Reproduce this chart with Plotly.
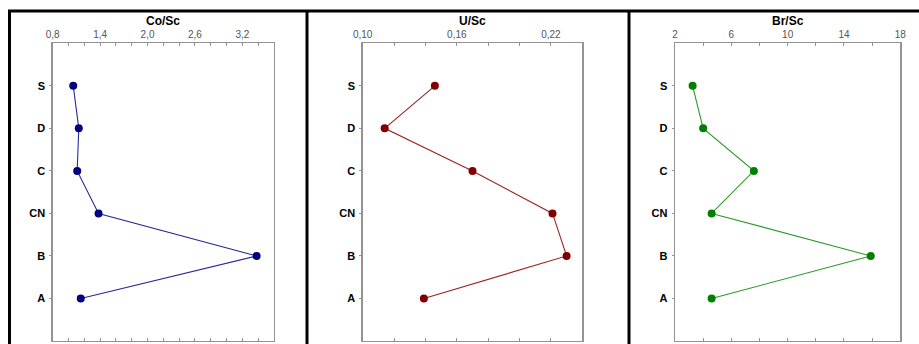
import plotly.graph_objects as go

# ---- data ----
categories = ["S", "D", "C", "CN", "B", "A"]
category_order = ["A", "B", "CN", "C", "D", "S"]  # bottom to top

co_sc = [1.06, 1.13, 1.11, 1.38, 3.38, 1.155]
u_sc = [0.146, 0.114, 0.170, 0.221, 0.230, 0.139]
br_sc = [3.25, 4.0, 7.6, 4.6, 15.9, 4.6]

titles = ["Co/Sc", "U/Sc", "Br/Sc"]

co_tickvals = [0.8, 1.4, 2.0, 2.6, 3.2]
co_ticktext = ["0,8", "1,4", "2,0", "2,6", "3,2"]
u_tickvals = [0.10, 0.16, 0.22]
u_ticktext = ["0,10", "0,16", "0,22"]
br_tickvals = [2, 6, 10, 14, 18]
br_ticktext = ["2", "6", "10", "14", "18"]

W, H = 919, 344

panels = [
    dict(x=co_sc, tv=co_tickvals, tt=co_ticktext, rng=[0.8, 3.6], minor=0.2, tick0=0.8,
         px=(52.7, 274.0), mcol="#000080", lcol="#2a2a98"),
    dict(x=u_sc, tv=u_tickvals, tt=u_ticktext, rng=[0.10, 0.24], minor=0.02, tick0=0.10,
         px=(362.7, 582.3), mcol="#800000", lcol="#9c2424"),
    dict(x=br_sc, tv=br_tickvals, tt=br_ticktext, rng=[2, 18], minor=2, tick0=2,
         px=(675.0, 900.3), mcol="#008000", lcol="#2a9a2a"),
]

ydom = [1 - 341 / H, 1 - 43.3 / H]

fig = go.Figure()
axis_gray = "#939393"
layout = dict(
    width=W, height=H, autosize=False,
    margin=dict(l=0, r=0, t=0, b=0, pad=0),
    paper_bgcolor="white", plot_bgcolor="white",
    showlegend=False,
    font=dict(family="Liberation Sans, Arial, sans-serif"),
)
annotations = []
for i, p in enumerate(panels):
    n = "" if i == 0 else str(i + 1)
    fig.add_trace(go.Scatter(
        x=p["x"], y=categories, mode="lines+markers",
        line=dict(color=p["lcol"], width=1.1),
        marker=dict(color=p["mcol"], size=8),
        xaxis="x" + n, yaxis="y" + n, cliponaxis=False,
    ))
    xd = [p["px"][0] / W, p["px"][1] / W]
    layout["xaxis" + n] = dict(
        domain=xd, anchor="y" + n, side="top", range=p["rng"], automargin=False,
        tickvals=p["tv"], ticktext=p["tt"],
        ticks="inside", ticklen=3, tickcolor=axis_gray, tickwidth=1,
        minor=dict(tick0=p["tick0"], dtick=p["minor"], ticks="inside", ticklen=3,
                   tickcolor=axis_gray, showgrid=False),
        showline=True, linecolor=axis_gray, linewidth=1.4, mirror="ticks",
        showgrid=False, zeroline=False,
        tickfont=dict(size=10, color="#555555"),
    )
    layout["yaxis" + n] = dict(
        domain=ydom, anchor="x" + n, type="category", automargin=False,
        categoryorder="array", categoryarray=category_order, range=[-1, 6],
        ticks="outside", ticklen=2, tickcolor=axis_gray,
        showline=True, linecolor=axis_gray, linewidth=1.4, mirror=True,
        showgrid=False, zeroline=False,
        tickfont=dict(size=11, color="black", weight="bold",
                      family="Liberation Sans, Arial, sans-serif"),
        ticklabelstandoff=2,
    )
    annotations.append(dict(
        text="<b>" + titles[i] + "</b>", xref="paper", yref="paper",
        x=(xd[0] + xd[1]) / 2, y=1 - 21 / H, xanchor="center", yanchor="middle",
        showarrow=False, font=dict(size=12, color="black"),
    ))

shapes = [
    dict(type="line", xref="paper", yref="paper", x0=8 / W, x1=1.0,
         y0=1 - 11 / H, y1=1 - 11 / H, line=dict(color="black", width=3)),
]
for xp in [9.5, 307, 629]:
    shapes.append(dict(type="line", xref="paper", yref="paper", x0=xp / W, x1=xp / W,
                       y0=1 - 10 / H, y1=-0.05, line=dict(color="black", width=3)))

layout["annotations"] = annotations
layout["shapes"] = shapes
fig.update_layout(**layout)
fig.write_html(
    "out.html",
    config={"displayModeBar": False, "staticPlot": True},
    post_script="document.body.style.margin='0';document.body.style.padding='0';"
                "document.body.style.overflow='hidden';",
)
